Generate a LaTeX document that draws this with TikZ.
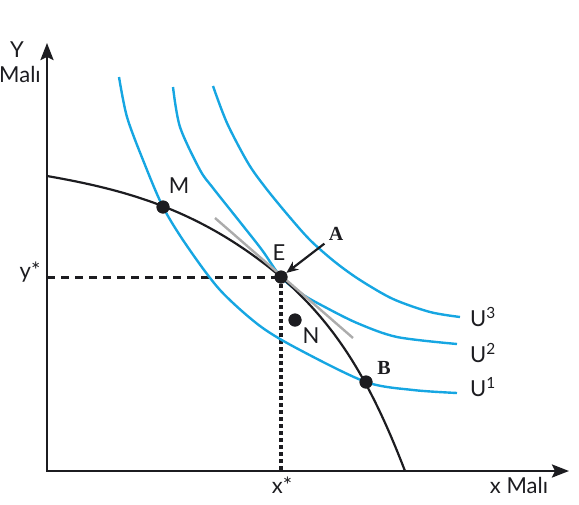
\documentclass[tikz,border=0pt]{standalone}
\usepackage{fontspec}
\setmainfont{Lato}
\newfontfamily\serifbold{Liberation Serif}
\usetikzlibrary{arrows.meta}
\definecolor{ucurve}{RGB}{22,166,226}
\definecolor{tangentgray}{RGB}{172,172,172}
\definecolor{ink}{RGB}{28,28,32}

\begin{document}
\begin{tikzpicture}[
        x=1pt, y=-1pt,
        axis/.style={line width=2.6pt, ink, {Stealth[length=17pt, width=13pt, inset=3pt]}-{Stealth[length=17pt, width=13pt, inset=3pt]}},
        ppf/.style={line width=2.2pt, ink},
        indiff/.style={line width=2.4pt, ucurve},
        tangent/.style={line width=2.4pt, tangentgray},
        hguide/.style={line width=3pt, ink, dash pattern=on 8pt off 6pt},
        vguide/.style={line width=3.5pt, ink, dash pattern=on 4pt off 3pt},
        dot/.style={circle, fill=ink, inner sep=0pt, minimum size=13pt},
        lbl/.style={inner sep=1pt, text=ink, font=\fontsize{22}{24}\selectfont},
        pt/.style={inner sep=1pt, text=ink, font=\serifbold\bfseries\fontsize{20}{22}\selectfont},
        arrow/.style={-{Stealth[length=12pt, width=10pt]}, line width=2.2pt, ink, shorten <=4pt},
    ]
    \useasboundingbox (0,0) rectangle (579,504);

    % axes
    \coordinate (ytip) at (47,43);
    \coordinate (O) at (47,471);
    \coordinate (xtip) at (569,471);
    \draw[axis] (ytip) -- (O) -- (xtip);

    \node[lbl, anchor=base] (ylab) at (17,57) {Y};
    \node[lbl, anchor=base] (ygood) at (20,82) {Malı};
    \node[lbl, anchor=base] (xgood) at (519,493) {x Malı};

    % points
    \node[dot] (M) at (163,207) {};
    \node[dot] (E) at (281,277) {};
    \node[dot] (N) at (295,320) {};
    \node[dot] (B) at (366,382) {};

    % guides to the axes
    \coordinate (ey) at (47,277);
    \coordinate (ex) at (281,471);
    \draw[hguide] (ey) -- (E.center);
    \draw[vguide] (E.center) -- (ex);
    \node[lbl, anchor=base] (ystar) at (30,278) {y*};
    \node[lbl, anchor=base] (xstar) at (282,493) {x*};

    % indifference curves
    \draw[indiff] plot[smooth] coordinates {(119,77) (127,117) (143,160) (163,207) (187,246) (220,290) (260,326) (300,350) (366,382) (413,390) (457,393)};
    \draw[indiff] plot[smooth] coordinates {(173,87) (180,127) (200,170) (213,188) (240,222) (262,250) (281,277) (302,294) (323,306) (357,323) (397,337) (457,344)};
    \draw[indiff] plot[smooth] coordinates {(213,86) (227,123) (248,163) (265,187) (287,214) (310,240) (335,262) (360,280) (393,299) (430,312) (460,317)};

    % production possibility curve
    \coordinate (ppftop) at (47,176);
    \coordinate (ppfend) at (405,471);
    \draw[ppf] (ppftop) .. controls (127,190) and (201,210) .. (E.center)
        .. controls (336,325) and (370,380) .. (ppfend);

    % tangent at E
    \coordinate (t1) at (215,218);
    \coordinate (t2) at (353,338);
    \draw[tangent] (t1) -- (t2);

    % redraw dots on top
    \foreach \p in {M,E,N,B} \fill[ink] (\p) circle (6.5pt);

    \node[lbl, anchor=base] (Mlab) at (179,193) {M};
    \node[lbl, anchor=base] (Elab) at (279,260) {E};
    \node[lbl, anchor=base] (Nlab) at (311,343) {N};
    \node[pt, anchor=base] (A) at (336,240) {A};
    \node[pt, anchor=base] (Blab) at (384,374) {B};
    \draw[arrow] (A.south west) -- (E);

    \node[lbl, anchor=base west] (U3) at (469,326) {U\textsuperscript{3}};
    \node[lbl, anchor=base west] (U2) at (469,362) {U\textsuperscript{2}};
    \node[lbl, anchor=base west] (U1) at (469,396) {U\textsuperscript{1}};

\end{tikzpicture}
\end{document}
